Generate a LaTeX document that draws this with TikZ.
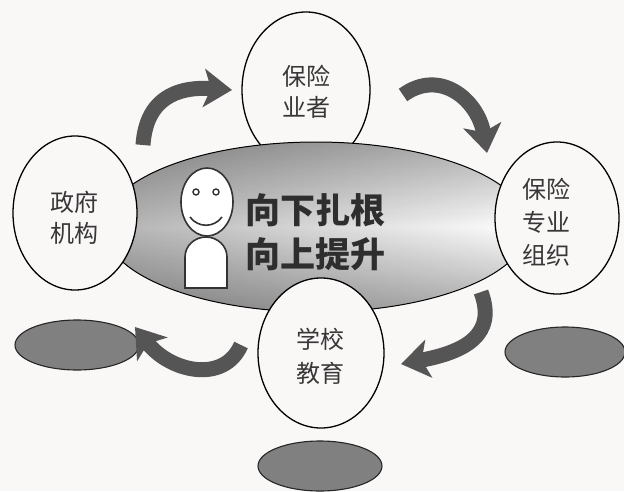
\documentclass[tikz,border=0pt]{standalone}
\usepackage{fontspec}
\newfontfamily\cjk{Noto Sans CJK SC}
\usetikzlibrary{shapes.geometric,arrows.meta,fadings}
\definecolor{bgc}{RGB}{250,247,247}
\definecolor{arrc}{RGB}{85,85,85}
\definecolor{shc}{RGB}{128,128,128}
\definecolor{txc}{RGB}{55,55,55}
\tikzfading[name=darkleft, left color=transparent!70, right color=transparent!100]
\begin{document}
\begin{tikzpicture}[x=1pt,y=-1pt,
  bubble/.style={draw=black, line width=1.3pt, fill=bgc, ellipse, inner sep=0pt},
  shadowell/.style={draw=black!85, line width=1.1pt, fill=shc, ellipse, inner sep=0pt, minimum width=124pt, minimum height=50pt},
  bubtext/.style={font=\cjk\fontsize{24}{31}\selectfont, text=txc, align=center},
  bigarrow/.style={line width=15pt, draw=arrc, -{Stealth[length=28pt,width=38pt,inset=7pt]}},
  face/.style={draw=black!80, line width=1.6pt, fill=white}
]
\useasboundingbox (0,0) rectangle (624,491);
\fill[bgc] (0,0) rectangle (624,491);

% top circle (behind the central ellipse)
\node[bubble, minimum width=128pt, minimum height=156pt] (ins) at (306,90) {};

% central ellipse
\node[ellipse, inner sep=0pt, minimum width=424pt, minimum height=170pt,
      top color=gray!60, bottom color=gray!64, middle color=white] (core) at (316,227) {};
\fill[black, path fading=darkleft] (core.center) ellipse [x radius=212pt, y radius=85pt];
\draw[black, line width=1pt] (core.center) ellipse [x radius=212pt, y radius=85pt];

% other circles
\node[bubble, minimum width=124pt, minimum height=154pt] (gov) at (75,213) {};
\node[bubble, minimum width=124pt, minimum height=152pt] (org) at (557,218) {};
\node[bubble, minimum width=126pt, minimum height=150pt] (sch) at (321,353) {};

% shadows
\node[shadowell] (shL) at (77,345) {};
\node[shadowell, minimum width=120pt] (shR) at (565,352) {};
\node[shadowell] (shB) at (320,466) {};

% arrows
\coordinate (a1s) at (143,145); \coordinate (a1e) at (232,90);
\coordinate (a2s) at (403,95);  \coordinate (a2e) at (487,153);
\coordinate (a3s) at (481,292); \coordinate (a3e) at (401,364);
\coordinate (a4s) at (241,345); \coordinate (a4e) at (135,327);
\draw[bigarrow] (a1s) .. controls (146,100) and (175,86) .. (a1e);
\draw[bigarrow] (a2s) .. controls (440,68) and (478,100) .. (a2e);
\draw[bigarrow] (a3s) .. controls (497,335) and (465,352) .. (a3e);
\draw[bigarrow] (a4s) .. controls (224,384) and (170,372) .. (a4e);

% smiley
\draw[face] (206,257) ++(-21,31) -- ++(0,-31) arc[start angle=180, end angle=0, x radius=21pt, y radius=20pt] -- ++(0,31) -- cycle;
\draw[face] (207,202) ellipse [x radius=26pt, y radius=34pt];
\draw[black!80, line width=1.4pt] (196,192) circle [radius=3pt];
\draw[black!80, line width=1.4pt] (216,192) circle [radius=3pt];
\draw[black!80, line width=1.6pt] (190,217) .. controls (198,228) and (214,228) .. (222,217);

% texts
\node[bubtext] (insT) at (306,92) {保险\\业者};
\node[bubtext] (govT) at (74,218) {政府\\机构};
\node[bubtext, font=\cjk\fontsize{24}{33}\selectfont] (orgT) at (546,222) {保险\\专业\\组织};
\node[bubtext, font=\cjk\fontsize{24}{34}\selectfont] (schT) at (320,356) {学校\\教育};
\node[font=\cjk\bfseries\fontsize{35}{44}\selectfont, text=black!82, align=left] (motto) at (315,232) {向下扎根\\向上提升};
\end{tikzpicture}
\end{document}
